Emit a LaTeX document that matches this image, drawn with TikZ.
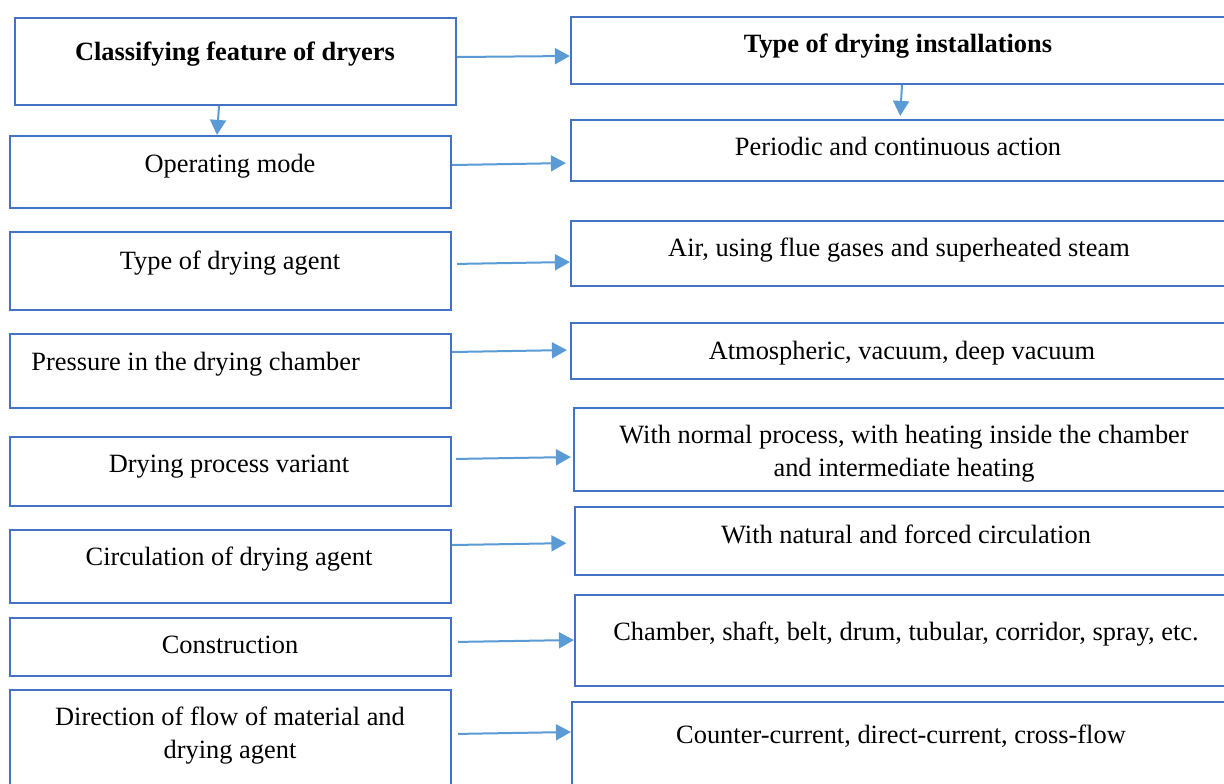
\documentclass[tikz,border=0pt]{standalone}
\usepackage{fontspec}
\setmainfont{Liberation Serif}
\usetikzlibrary{arrows.meta, positioning, calc, fit}
\definecolor{dryer_blue}{HTML}{4472C4}
\definecolor{flow_blue}{HTML}{5B9BD5}
\tikzset{
  featbox/.style={draw=dryer_blue,line width=1.1pt,inner sep=0pt},
  feattext/.style={font=\fontsize{13.2pt}{16.5pt}\selectfont,inner sep=0pt,anchor=base,align=center},
  headtext/.style={feattext,font=\fontsize{13.2pt}{16.5pt}\selectfont\bfseries},
  flow/.style={draw=flow_blue,line width=1pt,-{Triangle[length=7.5pt,width=8pt]}},
}

\begin{document}
\begin{tikzpicture}[x=0.5pt,y=-0.5pt]
	    \path[fill=white,use as bounding box] (0,0) rectangle (1224,783);
	    % classifying features
	    \node[featbox,fit={(15,18) (456,105)}] (feature) {};
	    \node[featbox,fit={(10,136) (451,208)}] (mode) {};
	    \node[featbox,fit={(10,232) (451,310)}] (agent) {};
	    \node[featbox,fit={(10,334) (451,408)}] (pressure) {};
	    \node[featbox,fit={(10,437) (451,506)}] (variant) {};
	    \node[featbox,fit={(10,530) (451,603)}] (circulation) {};
	    \node[featbox,fit={(10,618) (451,676)}] (construction) {};
	    \node[featbox,fit={(10,690) (451,800)}] (direction) {};
	    \node[headtext] (featuretext) at (235,60) {Classifying feature of dryers};
	    \node[feattext] (modetext) at (230,172) {Operating mode};
	    \node[feattext] (agenttext) at (230,269) {Type of drying agent};
	    \node[feattext,anchor=base west] (pressuretext) at (31,370) {Pressure in the drying chamber};
	    \node[feattext] (varianttext) at (229,472) {Drying process variant};
	    \node[feattext] (circulationtext) at (229,565) {Circulation of drying agent};
	    \node[feattext] (constructiontext) at (230,653) {Construction};
	    \node[feattext,anchor=center] (directiontext) at (230,735.5) {Direction of flow of material and\\drying agent};
	    % types of installations
	    \node[featbox,fit={(571,17) (1232,84)}] (install) {};
	    \node[featbox,fit={(571,120) (1232,181)}] (periodic) {};
	    \node[featbox,fit={(571,221) (1232,286)}] (air) {};
	    \node[featbox,fit={(571,323) (1232,379)}] (atmospheric) {};
	    \node[featbox,fit={(574,408) (1232,491)}] (normal) {};
	    \node[featbox,fit={(575,507) (1232,575)}] (natural) {};
	    \node[featbox,fit={(575,595) (1232,686)}] (chamber) {};
	    \node[featbox,fit={(572,702) (1232,800)}] (counter) {};
	    \node[headtext] (installtext) at (898,52) {Type of drying installations};
	    \node[feattext] (periodictext) at (898,155) {Periodic and continuous action};
	    \node[feattext] (airtext) at (899,256) {Air, using flue gases and superheated steam};
	    \node[feattext] (atmospherictext) at (902,359) {Atmospheric, vacuum, deep vacuum};
	    \node[feattext,anchor=center] (normaltext) at (904,453.5) {With normal process, with heating inside the chamber\\and intermediate heating};
	    \node[feattext] (naturaltext) at (906,543) {With natural and forced circulation};
	    \node[feattext] (chambertext) at (906,640) {Chamber, shaft, belt, drum, tubular, corridor, spray, etc.};
	    \node[feattext] (countertext) at (901,743) {Counter-current, direct-current, cross-flow};
	    % connectors
	    \draw[flow] (feature.east |- 0,57) -- (install.west |- 0,56);
	    \draw[flow] (feature.south -| 219,0) -- (mode.north -| 217,0);
	    \draw[flow,shorten >=1.5pt] (install.south -| 902,0) -- (periodic.north -| 900,0);
	    \draw[flow,shorten >=2pt] (mode.east |- 0,165) -- (periodic.west |- 0,163);
	    \draw[flow,shorten <=2.5pt] (agent.east |- 0,264) -- (air.west |- 0,262);
	    \draw[flow,shorten >=1.5pt] (pressure.east |- 0,352) -- (atmospheric.west |- 0,350);
	    \draw[flow,shorten <=2pt,shorten >=1pt] (variant.east |- 0,459) -- (normal.west |- 0,457);
	    \draw[flow,shorten >=3.75pt] (circulation.east |- 0,545) -- (natural.west |- 0,543);
	    \draw[flow,shorten <=3pt] (construction.east |- 0,642) -- (chamber.west |- 0,640);
	    \draw[flow,shorten <=3pt] (direction.east |- 0,734) -- (counter.west |- 0,732);
	\end{tikzpicture}
\end{document}
